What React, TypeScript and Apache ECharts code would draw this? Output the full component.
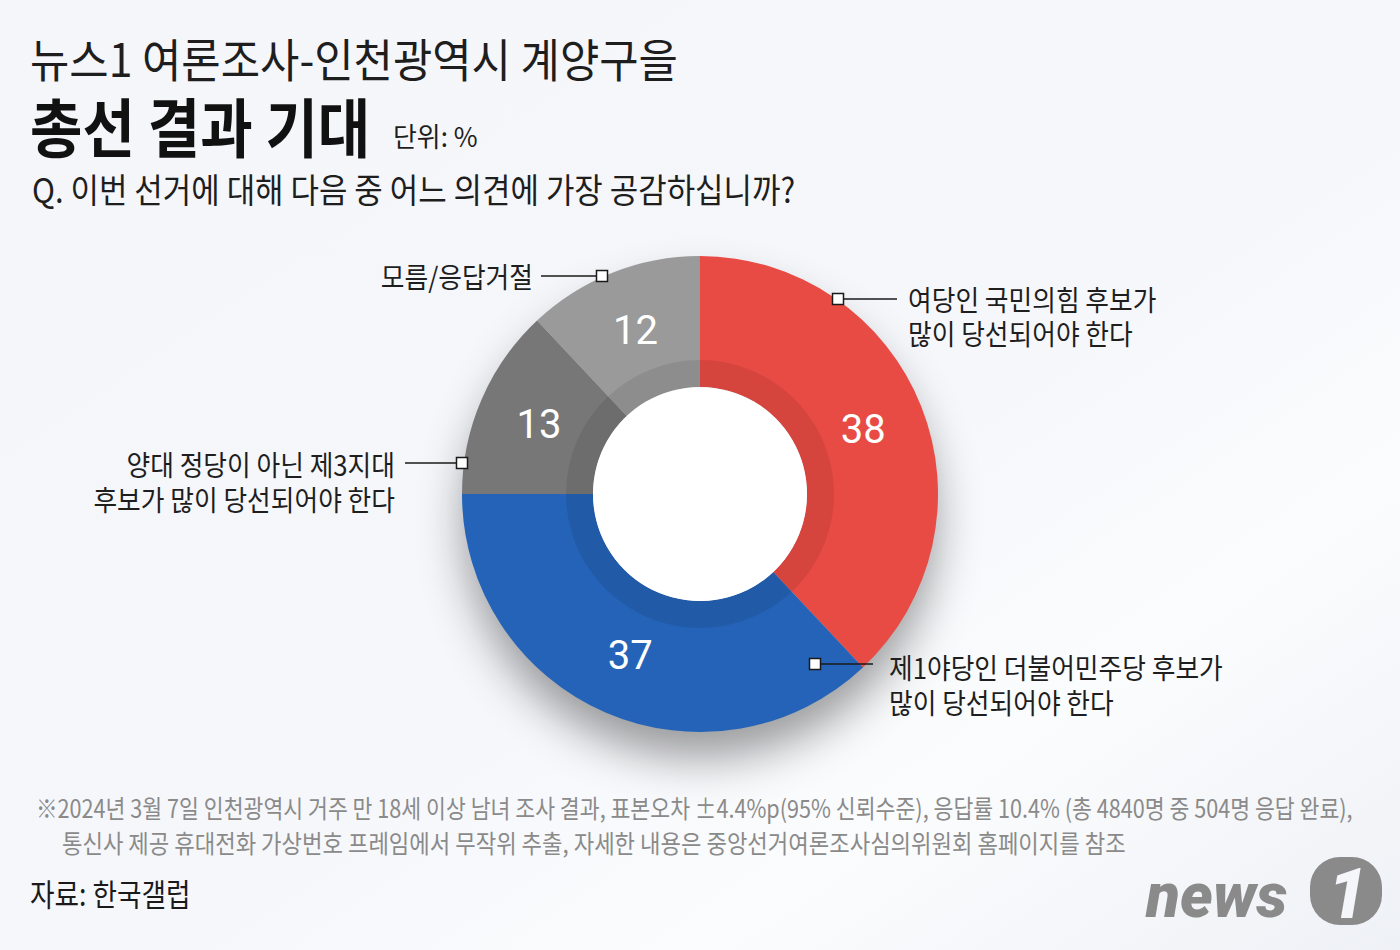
import React, { useEffect, useRef } from "react";
import * as echarts from "echarts";

const categories = [
  "여당인 국민의힘 후보가 많이 당선되어야 한다",
  "제1야당인 더불어민주당 후보가 많이 당선되어야 한다",
  "양대 정당이 아닌 제3지대 후보가 많이 당선되어야 한다",
  "모름/응답거절",
];
const values = [38, 37, 13, 12];
const colors = ["#e84b44", "#2463b7", "#777777", "#9a9a9a"];
const labelLines = [
  ["여당인 국민의힘 후보가", "많이 당선되어야 한다"],
  ["제1야당인 더불어민주당 후보가", "많이 당선되어야 한다"],
  ["양대 정당이 아닌 제3지대", "후보가 많이 당선되어야 한다"],
  ["모름/응답거절"],
];
const titleLine1 = "뉴스1 여론조사-인천광역시 계양구을";
const titleLine2 = "총선 결과 기대";
const unitText = "단위: %";
const questionText = "Q. 이번 선거에 대해 다음 중 어느 의견에 가장 공감하십니까?";
const noteLine1 =
  "※2024년 3월 7일 인천광역시 거주 만 18세 이상 남녀 조사 결과, 표본오차 ±4.4%p(95% 신뢰수준), 응답률 10.4% (총 4840명 중 504명 응답 완료),";
const noteLine2 =
  "통신사 제공 휴대전화 가상번호 프레임에서 무작위 추출, 자세한 내용은 중앙선거여론조사심의위원회 홈페이지를 참조";
const sourceText = "자료: 한국갤럽";

const KR = "'Noto Sans CJK KR', 'Noto Sans', sans-serif";

function txt(x: number, y: number, text: string, fontSize: number, opts: any = {}) {
  return {
    type: "text",
    x,
    y,
    scaleX: opts.scaleX ?? 0.92,
    z: 100,
    silent: true,
    style: {
      text,
      fontSize,
      fontFamily: opts.fontFamily ?? KR,
      fontWeight: opts.fontWeight ?? "normal",
      fontStyle: opts.fontStyle ?? "normal",
      fill: opts.fill ?? "#1e1e1e",
      textAlign: opts.align ?? "left",
      textVerticalAlign: "top",
      lineHeight: opts.lineHeight ?? fontSize * 1.2,
    },
  };
}

function connector(x1: number, x2: number, y: number, sx: number) {
  return [
    {
      type: "line",
      z: 100,
      silent: true,
      shape: { x1, y1: y, x2, y2: y },
      style: { stroke: "#1a1a1a", lineWidth: 1.5 },
    },
    {
      type: "rect",
      z: 101,
      silent: true,
      shape: { x: sx - 5.5, y: y - 5.5, width: 11, height: 11 },
      style: { fill: "#ffffff", stroke: "#1a1a1a", lineWidth: 1.5 },
    },
  ];
}

export default function App() {
  const ref = useRef<HTMLDivElement>(null);

  useEffect(() => {
    document.body.style.margin = "0";
    const chart = echarts.init(ref.current!, null, { renderer: "svg" });
    const center = [700, 494];

    const option: any = {
      animation: false,
      backgroundColor: "#f4f6fa",
      series: [
        {
          type: "pie",
          silent: true,
          center,
          radius: [107, 236],
          z: 1,
          label: { show: false },
          labelLine: { show: false },
          itemStyle: {
            color: "#bdbdbd",
            shadowBlur: 45,
            shadowOffsetY: 28,
            shadowColor: "rgba(0,0,0,0.38)",
          },
          data: [{ name: "shadow", value: 1 }],
        },
        {
          type: "pie",
          silent: true,
          center,
          radius: [107, 238],
          startAngle: 90,
          clockwise: true,
          z: 2,
          emphasis: { disabled: true },
          label: {
            show: true,
            position: "inside",
            formatter: "{c}",
            color: "#ffffff",
            fontSize: 40,
            fontFamily: "Roboto, sans-serif",
          },
          labelLine: { show: false },
          data: categories.map((c, i) => ({
            name: c,
            value: values[i],
            itemStyle: { color: colors[i] },
          })),
        },
        {
          type: "pie",
          silent: true,
          center,
          radius: [107, 134],
          startAngle: 90,
          clockwise: true,
          z: 3,
          label: { show: false },
          labelLine: { show: false },
          itemStyle: { color: "rgba(0,0,0,0.08)" },
          data: categories.map((c, i) => ({ name: c, value: values[i] })),
        },
      ],
      graphic: [
        {
          type: "rect",
          z: -10,
          silent: true,
          shape: { x: 0, y: 0, width: 1400, height: 950 },
          style: {
            fill: new echarts.graphic.LinearGradient(0, 0, 1, 1, [
              { offset: 0, color: "#f5f6fa" },
              { offset: 0.55, color: "#f6f7fb" },
              { offset: 0.75, color: "#fbfcfd" },
              { offset: 1, color: "#eef1f6" },
            ]),
          },
        },
        {
          type: "circle",
          z: 100,
          silent: true,
          shape: { cx: center[0], cy: center[1], r: 107 },
          style: { fill: "#ffffff" },
        },
        txt(30, 29, titleLine1, 46, { scaleX: 0.93 }),
        txt(30, 86, titleLine2, 64, { fontWeight: "bold", fill: "#111", scaleX: 0.89 }),
        txt(393, 119, unitText, 27, { scaleX: 0.96 }),
        txt(32, 167, questionText, 34, { scaleX: 0.91 }),
        txt(533, 259, labelLines[3].join("\n"), 28, { align: "right", lineHeight: 34 }),
        txt(908, 282, labelLines[0].join("\n"), 28, { lineHeight: 34 }),
        txt(395, 447, labelLines[2].join("\n"), 28, { align: "right", lineHeight: 35 }),
        txt(889, 650, labelLines[1].join("\n"), 28, { lineHeight: 35 }),
        ...connector(541, 597, 276, 602),
        ...connector(843, 897, 299, 838),
        ...connector(405, 457, 463, 462),
        ...connector(820, 873, 664, 815),
        txt(36, 792, noteLine1, 25, { fill: "#8a8a8a", scaleX: 0.865 }),
        txt(62, 827, noteLine2, 25, { fill: "#8a8a8a", scaleX: 0.89 }),
        txt(30, 873, sourceText, 31, { scaleX: 0.86, fill: "#1a1a1a" }),
        txt(1146, 858, "news", 62, {
          fontFamily: "Roboto, sans-serif",
          fontWeight: 900,
          fontStyle: "italic",
          fill: "#8a8a8a",
          scaleX: 1,
        }),
        {
          type: "rect",
          z: 100,
          silent: true,
          shape: { x: 1310, y: 857, width: 72, height: 68, r: 30 },
          style: { fill: "#8a8a8a" },
        },
        txt(1328, 852, "1", 70, {
          fontFamily: "Roboto, sans-serif",
          fontWeight: 900,
          fontStyle: "italic",
          fill: "#f4f6fa",
          scaleX: 1,
        }),
      ],
    };

    chart.setOption(option);
    return () => chart.dispose();
  }, []);

  return <div ref={ref} style={{ width: 1400, height: 950 }} />;
}
